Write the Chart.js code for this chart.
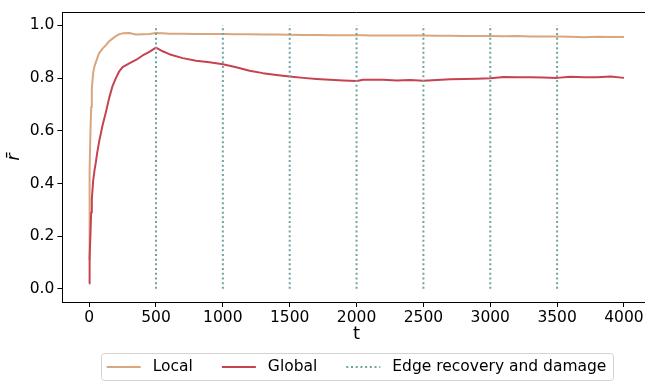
<!DOCTYPE html>
<html>
<head>
<meta charset="utf-8">
<script src="https://cdn.jsdelivr.net/npm/chart.js@4"></script>
<style>
  body { margin: 0; overflow: hidden; background: #fff; }
</style>
</head>
<body>
<canvas id="chart" width="660" height="383"></canvas>
<script>
// time steps shared by both series
var steps = [0, 2, 5, 10, 15, 20, 30, 40, 50, 60, 75, 100, 125, 150, 175, 200, 225, 250, 300, 350,
  400, 450, 500, 550, 600, 700, 800, 900, 1000, 1100, 1200, 1300, 1400, 1500, 1600, 1700, 1800,
  1900, 2000, 2050, 2100, 2200, 2300, 2400, 2500, 2600, 2700, 2800, 2900, 3000, 3100, 3200, 3300,
  3400, 3500, 3600, 3700, 3800, 3900, 4000];

var localR = [0.11, 0.33, 0.45, 0.60, 0.69, 0.76, 0.82, 0.845, 0.86, 0.875, 0.895, 0.912, 0.925, 0.94, 0.95, 0.96,
  0.967, 0.97, 0.971, 0.966, 0.967, 0.968, 0.971, 0.970, 0.969, 0.969, 0.968, 0.968, 0.968, 0.967,
  0.967, 0.966, 0.966, 0.965, 0.964, 0.964, 0.963, 0.963, 0.963, 0.963, 0.962, 0.962, 0.962, 0.962,
  0.962, 0.961, 0.961, 0.960, 0.960, 0.960, 0.959, 0.960, 0.958, 0.958, 0.958, 0.957, 0.955, 0.957,
  0.956, 0.956];

var globalR = [0.02, 0.07, 0.12, 0.21, 0.29, 0.34, 0.41, 0.45, 0.48, 0.515, 0.56, 0.62, 0.67, 0.725, 0.77, 0.80,
  0.826, 0.842, 0.856, 0.869, 0.886, 0.90, 0.916, 0.902, 0.891, 0.876, 0.866, 0.860, 0.853, 0.841,
  0.828, 0.819, 0.812, 0.806, 0.801, 0.797, 0.794, 0.791, 0.789, 0.794, 0.794, 0.794, 0.791, 0.793,
  0.790, 0.793, 0.796, 0.797, 0.798, 0.800, 0.804, 0.803, 0.803, 0.802, 0.801, 0.805, 0.803, 0.803,
  0.806, 0.801];

var recoveryTimes = [500, 1000, 1500, 2000, 2500, 3000, 3500];

var xTicks = [0, 500, 1000, 1500, 2000, 2500, 3000, 3500, 4000];
var yTicks = [0, 0.2, 0.4, 0.6, 0.8, 1.0];

var labels = ["Local", "Global", "Edge recovery and damage"];

function toPoints(xs, ys) {
  var pts = [];
  for (var i = 0; i < xs.length; i++) {
    pts.push({ x: xs[i], y: ys[i] });
  }
  return pts;
}

// one dataset for all vertical lines, broken by null gaps
var vlinePts = [];
recoveryTimes.forEach(function(t) {
  vlinePts.push({ x: t, y: 0 }, { x: t, y: 1 }, { x: t, y: null });
});

var FONT = "'DejaVu Sans', sans-serif";
var TICK_SIZE = 15.5;
Chart.defaults.color = "#000";
Chart.defaults.font.family = FONT;

// matplotlib-like box + framed legend
var frame = {
  id: "frame",
  afterDraw: function(chart) {
    var ctx = chart.ctx;
    var a = chart.chartArea;
    ctx.save();
    ctx.strokeStyle = "#000";
    ctx.lineWidth = 1;
    ctx.beginPath();
    ctx.moveTo(a.left, Math.round(a.top) + 0.5);
    ctx.lineTo(a.right, Math.round(a.top) + 0.5);
    ctx.moveTo(Math.round(a.right) + 0.5, a.top);
    ctx.lineTo(Math.round(a.right) + 0.5, a.bottom);
    ctx.stroke();

    // legend
    ctx.font = TICK_SIZE + "px " + FONT;
    var lineLen = 34, gap = 12, spacing = 29, padX = 6;
    var ds = chart.data.datasets;
    var widths = ds.map(function(d) { return ctx.measureText(d.label).width; });
    var total = padX * 2 + spacing * (ds.length - 1);
    widths.forEach(function(w) { total += lineLen + gap + w; });
    var cx = (a.left + a.right) / 2;
    var x = cx - total / 2;
    var top = 353.5, h = 27, cy = 367;

    ctx.beginPath();
    ctx.roundRect(Math.round(x) + 0.5, top, Math.round(total), h, 3);
    ctx.fillStyle = "rgba(255,255,255,0.8)";
    ctx.fill();
    ctx.strokeStyle = "#d3d3d3";
    ctx.stroke();

    x += padX;
    ds.forEach(function(d, i) {
      ctx.beginPath();
      ctx.strokeStyle = d.borderColor;
      ctx.lineWidth = d.borderWidth;
      ctx.setLineDash(d.borderDash || []);
      ctx.moveTo(x, cy);
      ctx.lineTo(x + lineLen, cy);
      ctx.stroke();
      ctx.setLineDash([]);
      ctx.fillStyle = "#000";
      ctx.textBaseline = "middle";
      ctx.textAlign = "left";
      ctx.fillText(d.label, x + lineLen + gap, cy);
      x += lineLen + gap + widths[i] + spacing;
    });
    ctx.restore();
  }
};

var chart = new Chart(document.getElementById("chart"), {
  type: "line",
  data: {
    datasets: [
      {
        label: labels[0],
        data: toPoints(steps, localR),
        borderColor: "#d9a67e",
        borderWidth: 2,
        order: 2
      },
      {
        label: labels[1],
        data: toPoints(steps, globalR),
        borderColor: "#c8414f",
        borderWidth: 2,
        order: 1
      },
      {
        label: labels[2],
        data: vlinePts,
        borderColor: "#6fa39f",
        borderWidth: 2,
        borderDash: [2, 2.7],
        spanGaps: false,
        order: 0
      }
    ]
  },
  options: {
    responsive: false,
    animation: false,
    devicePixelRatio: 1,
    elements: {
      point: { radius: 0 },
      line: { tension: 0, fill: false, borderJoinStyle: "round" }
    },
    layout: {
      padding: { left: 0, top: 7, right: 9.3, bottom: 38 }
    },
    plugins: {
      legend: { display: false },
      tooltip: { enabled: false }
    },
    scales: {
      x: {
        type: "linear",
        min: -200,
        max: 4200,
        afterBuildTicks: function(scale) {
          scale.ticks = xTicks.map(function(v) { return { value: v }; });
        },
        afterFit: function(scale) { scale.height = 43; },
        grid: { drawOnChartArea: false, tickLength: 5, color: "#000" },
        border: { color: "#000", width: 1 },
        ticks: {
          font: { size: TICK_SIZE },
          padding: 2,
          maxRotation: 0,
          autoSkip: false,
          callback: function(v) { return v; }
        },
        title: {
          display: true,
          text: "t",
          font: { size: 18 },
          padding: 0
        }
      },
      y: {
        type: "linear",
        min: -0.05,
        max: 1.05,
        afterBuildTicks: function(scale) {
          scale.ticks = yTicks.map(function(v) { return { value: v }; });
        },
        afterFit: function(scale) { scale.width = 62.4; },
        grid: { drawOnChartArea: false, tickLength: 5, color: "#000" },
        border: { color: "#000", width: 1 },
        ticks: {
          font: { size: TICK_SIZE },
          padding: 3,
          callback: function(v) { return v.toFixed(1); }
        },
        title: {
          display: true,
          text: "r\u0304",
          font: { size: 18, style: "italic" },
          padding: { top: 4, bottom: 0 }
        }
      }
    }
  },
  plugins: [frame]
});
</script>
</body>
</html>
